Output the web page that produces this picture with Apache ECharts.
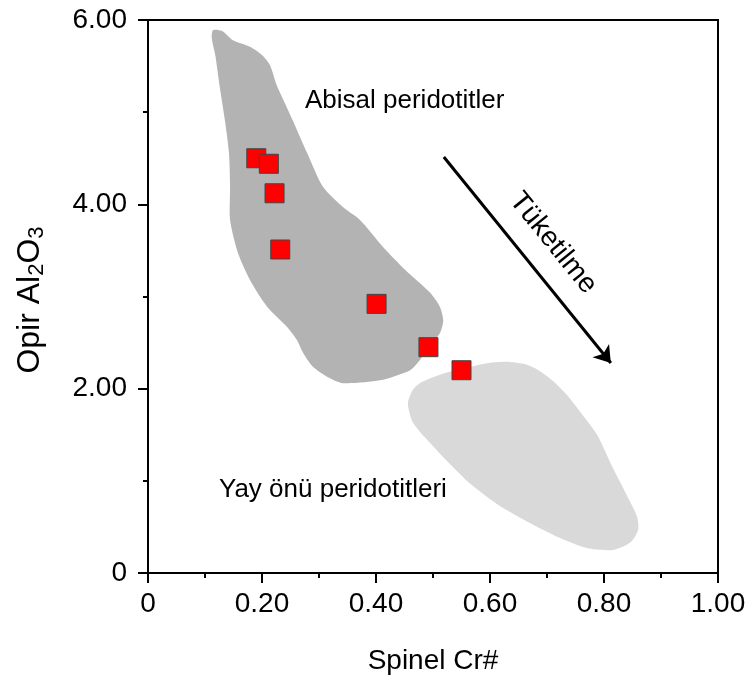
<!DOCTYPE html>
<html>
<head>
<meta charset="utf-8">
<script src="https://cdn.jsdelivr.net/npm/echarts@6/dist/echarts.min.js"></script>
<style>html,body{margin:0;padding:0;background:#fff}#c{width:753px;height:685px}</style>
</head>
<body>
<div id="c"></div>
<script>
// Sample points (Spinel Cr#, Opx Al2O3)
var pointsX = [0.190, 0.212, 0.222, 0.232, 0.401, 0.492, 0.550];
var pointsY = [4.50, 4.44, 4.12, 3.51, 2.92, 2.45, 2.20];

// Abyssal peridotite field outline
var abyssalX = [0.114,0.130,0.149,0.179,0.200,0.214,0.226,0.240,0.254,0.279,0.307,0.342,0.372,0.412,0.451,0.495,0.512,0.518,0.512,0.495,0.477,0.460,0.407,0.342,0.314,0.289,0.272,0.261,0.244,0.209,0.179,0.158,0.144,0.144,0.142,0.135,0.126,0.118,0.112];
var abyssalY = [5.89,5.88,5.78,5.71,5.62,5.51,5.29,5.10,4.91,4.56,4.19,3.97,3.83,3.54,3.29,3.04,2.89,2.74,2.60,2.47,2.31,2.20,2.09,2.06,2.13,2.24,2.39,2.53,2.67,2.89,3.18,3.47,3.83,4.19,4.56,4.91,5.27,5.62,5.80];

// Forearc peridotite field outline
var forearcX = [0.456,0.465,0.477,0.512,0.547,0.600,0.635,0.665,0.688,0.711,0.735,0.763,0.788,0.811,0.828,0.846,0.858,0.860,0.846,0.816,0.770,0.723,0.665,0.612,0.565,0.530,0.495,0.465];
var forearcY = [1.84,1.99,2.06,2.15,2.21,2.28,2.29,2.26,2.19,2.08,1.93,1.71,1.50,1.20,0.99,0.77,0.61,0.47,0.33,0.25,0.27,0.38,0.56,0.75,0.97,1.18,1.41,1.63];

// Depletion arrow (start, end)
var arrowX = [0.519, 0.812];
var arrowY = [4.513, 2.278];

var xTicks = [0, 0.2, 0.4, 0.6, 0.8, 1.0];
var yTicks = [0, 2, 4, 6];

var fieldNames = ['Abisal peridotitler', 'Yay önü peridotitleri'];
var fieldColors = ['#b3b3b3', '#d9d9d9'];

var FONT = "'Liberation Sans', Arial, sans-serif";

function zip(a, b) { return a.map(function (v, i) { return [v, b[i]]; }); }
var polys = [zip(abyssalX, abyssalY), zip(forearcX, forearcY)];

var chart = echarts.init(document.getElementById('c'), null, {renderer: 'canvas'});
chart.setOption({
  animation: false,
  grid: {left: 148, right: 35, top: 20, bottom: 112, show: true, borderColor: '#000', borderWidth: 2, backgroundColor: 'transparent'},
  xAxis: {
    type: 'value', min: 0, max: 1, interval: 0.2,
    name: 'Spinel Cr#', nameLocation: 'middle', nameGap: 74,
    nameTextStyle: {fontFamily: FONT, fontSize: 28, color: '#000'},
    axisLine: {lineStyle: {color: '#000', width: 2}},
    axisTick: {inside: false, length: 10, lineStyle: {color: '#000', width: 2}},
    minorTick: {show: true, splitNumber: 2, length: 5, lineStyle: {color: '#000', width: 2}},
    splitLine: {show: false},
    axisLabel: {fontFamily: FONT, fontSize: 28, color: '#000', margin: 17,
      formatter: function (v) { return v === 0 ? '0' : v.toFixed(2); }}
  },
  yAxis: {
    type: 'value', min: 0, max: 6, interval: 2,
    axisLine: {lineStyle: {color: '#000', width: 2}},
    axisTick: {inside: false, length: 10, lineStyle: {color: '#000', width: 2}},
    minorTick: {show: true, splitNumber: 2, length: 5, lineStyle: {color: '#000', width: 2}},
    splitLine: {show: false},
    axisLabel: {fontFamily: FONT, fontSize: 28, color: '#000', margin: 21,
      formatter: function (v) { return v === 0 ? '0' : v.toFixed(2); }}
  },
  graphic: [
    {type: 'text', x: 30, y: 300, rotation: Math.PI / 2,
      style: {text: 'Opir Al{sub|2}O{sub|3}', fill: '#000', font: '32px ' + FONT, align: 'center', verticalAlign: 'middle',
        rich: {sub: {fontSize: 22, fontFamily: FONT, padding: [14, 0, 0, 0]}}}},
    {type: 'text', x: 305, y: 101, style: {text: fieldNames[0], fill: '#000', font: '26px ' + FONT, verticalAlign: 'middle'}},
    {type: 'text', x: 219, y: 490, style: {text: fieldNames[1], fill: '#000', font: '26px ' + FONT, verticalAlign: 'middle'}},
    {type: 'text', x: 553, y: 243, rotation: -51 * Math.PI / 180,
      style: {text: 'Tüketilme', fill: '#000', font: '28px ' + FONT, align: 'center', verticalAlign: 'middle'}}
  ],
  series: [
    {
      type: 'custom',
      data: [0, 1],
      silent: true,
      renderItem: function (params, api) {
        var pts = polys[params.dataIndex].map(function (p) { return api.coord(p); });
        return {type: 'polygon', shape: {points: pts, smooth: 0.25}, style: {fill: fieldColors[params.dataIndex], stroke: null}};
      },
      z: 1
    },
    {
      type: 'scatter',
      data: zip(pointsX, pointsY),
      symbol: 'rect', symbolSize: 19,
      itemStyle: {color: '#ff0000', borderColor: '#444', borderWidth: 1, opacity: 1},
      z: 5,
      markLine: {
        silent: true, symbol: ['none', 'arrow'], symbolSize: 16,
        label: {show: false},
        lineStyle: {color: '#000', width: 3, type: 'solid'},
        data: [[{coord: [arrowX[0], arrowY[0]]}, {coord: [arrowX[1], arrowY[1]]}]]
      }
    }
  ]
});
</script>
</body>
</html>
